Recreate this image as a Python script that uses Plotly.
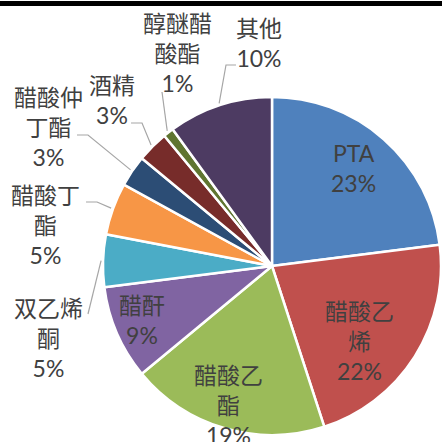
import math
import plotly.graph_objects as go

# ---- data ----
categories = ["PTA", "醋酸乙烯", "醋酸乙酯", "醋酐", "双乙烯酮", "醋酸丁酯", "醋酸仲丁酯", "酒精", "醇醚醋酸酯", "其他"]
values = [23, 22, 19, 9, 5, 5, 3, 3, 1, 10]
label_texts = ["PTA", "醋酸乙<br>烯", "醋酸乙<br>酯", "醋酐", "双乙烯<br>酮", "醋酸丁<br>酯", "醋酸仲<br>丁酯", "酒精", "醇醚醋<br>酸酯", "其他"]

# ---- style ----
colors = ["#4F81BD", "#C0504D", "#9BBB59", "#8064A2", "#4BACC6", "#F79646",
          "#2C4D75", "#772C2A", "#5F7530", "#4D3B62"]
W = H = 442
CX, CY, R = 272, 266, 169
# label centres (pixels) and leader-line bends (pixels, None = inside label)
label_pos = [(353, 168), (359, 341), (228, 405), (142, 320), (48, 338),
             (45, 225), (48, 127), (112, 100), (177, 53), (259, 43)]
leader_pts = [None, None, None, None,
              [(88, 314)],
              [(97, 202), (86, 202)],
              [(88, 135), (77, 135)],
              [(142, 123), (131, 123)],
              [(162, 92)],
              [(226, 65), (236, 65)]]
FONT = "Lato, 'Noto Sans CJK SC', sans-serif"
TXT = "#404040"

def px(x):
    return x / W

def py(y):
    return 1 - y / H

fig = go.Figure(go.Pie(
    labels=categories, values=values, sort=False, direction="clockwise", rotation=0,
    marker=dict(colors=colors, line=dict(color="white", width=2.5)),
    textinfo="none", hoverinfo="label+percent", showlegend=False,
    domain=dict(x=[px(CX - R), px(CX + R)], y=[py(CY + R), py(CY - R)]),
))

total = sum(values)
cum = 0
annotations, shapes = [], []
for i, v in enumerate(values):
    mid = (cum + v / 2) / total * 2 * math.pi
    cum += v
    lx, ly = label_pos[i]
    annotations.append(dict(
        x=px(lx), y=py(ly), xref="paper", yref="paper", showarrow=False,
        text=f"{label_texts[i]}<br>{round(v / total * 100)}%",
        font=dict(family=FONT, size=23, color=TXT), align="center",
        xanchor="center", yanchor="middle"))
    if leader_pts[i]:
        sx = CX + (R + 2) * math.sin(mid)
        sy = CY - (R + 2) * math.cos(mid)
        pts = [(sx, sy)] + leader_pts[i]
        path = "M " + " L ".join(f"{px(a):.4f},{py(b):.4f}" for a, b in pts)
        shapes.append(dict(type="path", xref="paper", yref="paper", path=path,
                           line=dict(color="#A6A6A6", width=1.2)))

# top black rule
shapes.append(dict(type="rect", xref="paper", yref="paper", x0=0, x1=1,
                   y0=py(6), y1=py(1), fillcolor="black", line=dict(width=0)))

fig.update_layout(width=W, height=H, margin=dict(l=0, r=0, t=0, b=0),
                  paper_bgcolor="white", plot_bgcolor="white",
                  annotations=annotations, shapes=shapes)
fig.write_html("out.html", config={"displayModeBar": False},
               post_script="document.body.style.margin='0';document.body.style.overflow='hidden';")
